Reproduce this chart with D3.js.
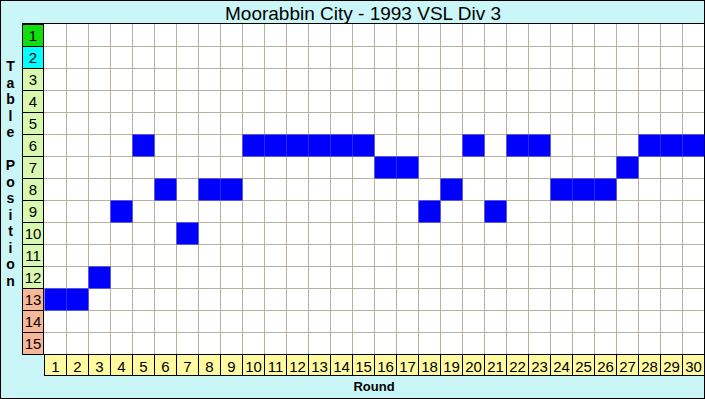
<!DOCTYPE html>
<html><head><meta charset="utf-8">
<script src="https://cdn.jsdelivr.net/npm/d3@7"></script>
<style>html,body{margin:0;padding:0;background:#fff}svg{display:block}</style>
</head><body>
<svg id="c" width="705" height="399"></svg>
<script>
const title = "Moorabbin City - 1993 VSL Div 3";
const rounds = d3.range(1, 31);
const positionsTicks = d3.range(1, 16);
const positions = [13,13,12,9,6,8,10,8,8,6,6,6,6,6,6,7,7,9,8,6,9,6,6,8,8,8,7,6,6,6];
const yAxisTitle = "Table Position";
const xAxisTitle = "Round";

const W = 705, H = 399;
const svg = d3.select("#c");
svg.append("rect").attr("x",0).attr("y",0).attr("width",W).attr("height",H).attr("fill","#caf6f8");
svg.append("rect").attr("x",0.5).attr("y",0.5).attr("width",W-1).attr("height",H-1).attr("fill","none").attr("stroke","#000");

const x = d3.scaleBand().domain(rounds).range([44, 704]).padding(0);
const y = d3.scaleBand().domain(positionsTicks).range([24, 354]).padding(0);
const bw = x.bandwidth(), bh = y.bandwidth();

// plot background
svg.append("rect").attr("x",44).attr("y",24).attr("width",660).attr("height",330).attr("fill","#fff");

// grid
const g = svg.append("g");
g.selectAll("line.v").data(rounds.slice(1)).join("line")
  .attr("x1",d=>x(d)+0.5).attr("x2",d=>x(d)+0.5).attr("y1",24).attr("y2",354)
  .attr("stroke","#b8b0a0");
g.selectAll("line.h").data(positionsTicks.slice(1)).join("line")
  .attr("y1",d=>y(d)+0.5).attr("y2",d=>y(d)+0.5).attr("x1",44).attr("x2",704)
  .attr("stroke","#b8b0a0");

// bars
svg.selectAll("rect.cell").data(positions).join("rect")
  .attr("x",(d,i)=>x(rounds[i])+0.5).attr("y",d=>y(d)+0.5)
  .attr("width",bw).attr("height",bh).attr("fill","#0000ff");

// top border of plot
svg.append("line").attr("x1",22).attr("x2",705).attr("y1",23.5).attr("y2",23.5).attr("stroke","#000");

// left label column
const lcol = d => d===1 ? "#11dd11" : d===2 ? "#00ffff" : d>=13 ? "#f8b898" : "#d8f8b0";
svg.selectAll("rect.yl").data(positionsTicks).join("rect")
  .attr("x",22.5).attr("y",d=>y(d)+0.5).attr("width",21).attr("height",bh)
  .attr("fill",lcol).attr("stroke","#000");
svg.selectAll("text.yl").data(positionsTicks).join("text")
  .attr("x",33).attr("y",d=>y(d)+bh/2+6).attr("text-anchor","middle")
  .attr("font-family","Liberation Sans, Arial, sans-serif").attr("font-size",15)
  .attr("fill","#000").text(d=>d);

// bottom label row
svg.selectAll("rect.xl").data(rounds).join("rect")
  .attr("x",d=>x(d)+0.5).attr("y",354.5).attr("width",bw).attr("height",21)
  .attr("fill","#fffaa0").attr("stroke","#000");
svg.selectAll("text.xl").data(rounds).join("text")
  .attr("x",d=>x(d)+bw/2+0.5).attr("y",371.5).attr("text-anchor","middle")
  .attr("font-family","Liberation Sans, Arial, sans-serif").attr("font-size",15)
  .attr("fill","#000").text(d=>d);

// title
svg.append("text").attr("x",363).attr("y",19.5).attr("text-anchor","middle")
  .attr("font-family","Liberation Sans, Arial, sans-serif").attr("font-size",19)
  .attr("fill","#000").text(title);

// x axis title
svg.append("text").attr("x",374).attr("y",391).attr("text-anchor","middle")
  .attr("font-family","Liberation Sans, Arial, sans-serif").attr("font-size",13).attr("font-weight","bold")
  .attr("fill","#000").text(xAxisTitle);

// y axis title (stacked letters)
const letters = yAxisTitle.split("");
svg.selectAll("text.yt").data(letters).join("text")
  .attr("x",10.5).attr("y",(d,i)=>66 + i*16.5 + 5).attr("text-anchor","middle")
  .attr("font-family","Liberation Sans, Arial, sans-serif").attr("font-size",14).attr("font-weight","bold")
  .attr("fill","#000").text(d=>d);
</script>
</body></html>
